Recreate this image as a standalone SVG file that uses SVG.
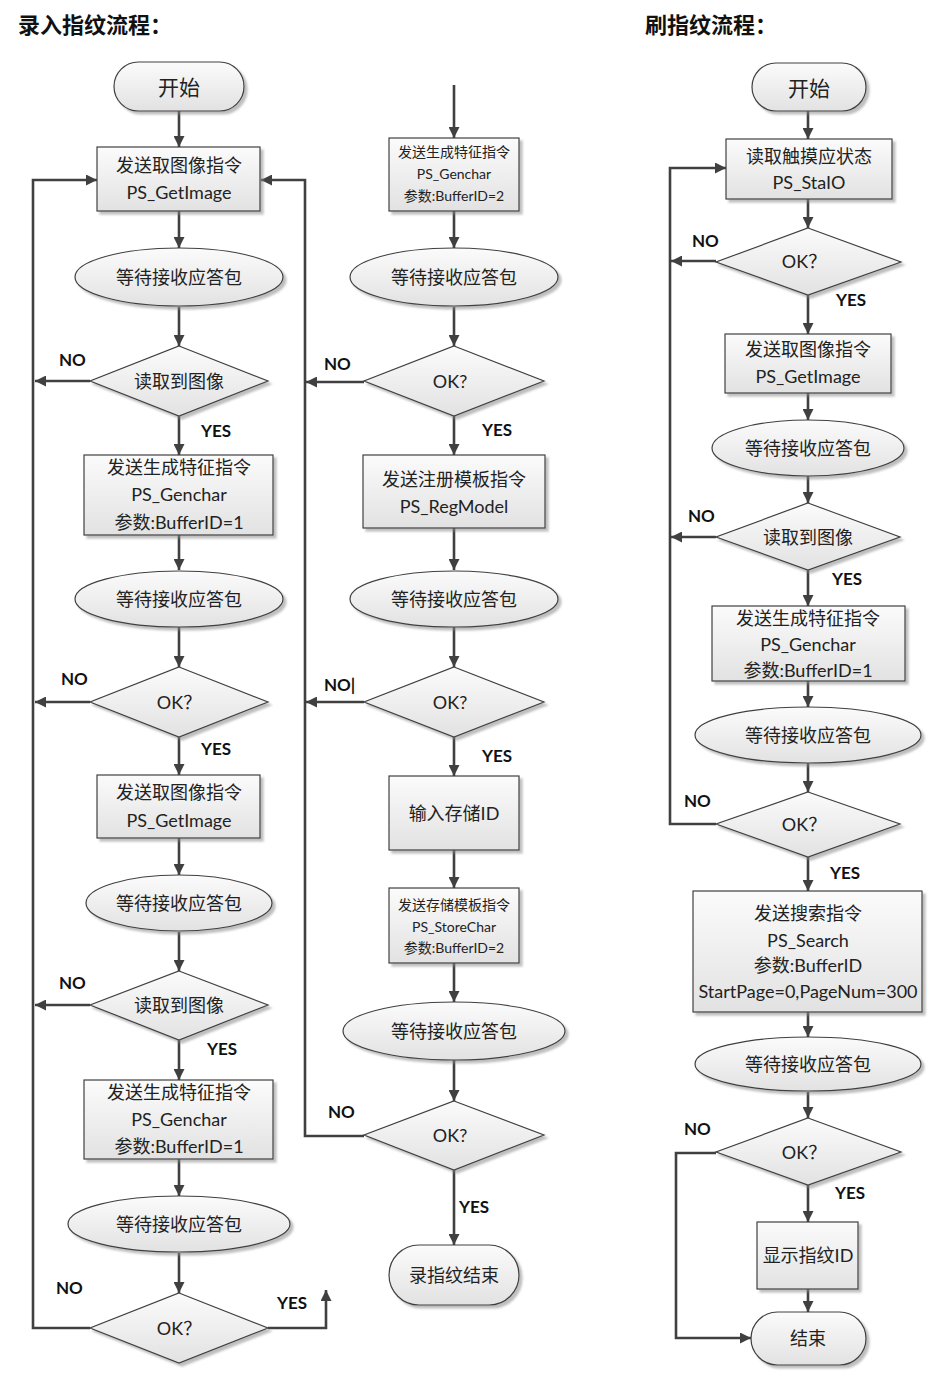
<svg xmlns="http://www.w3.org/2000/svg" width="936" height="1376" viewBox="0 0 936 1376">
<defs>
<linearGradient id="g" x1="0" y1="0" x2="0" y2="1"><stop offset="0" stop-color="#fbfbfb"/><stop offset="1" stop-color="#e2e2e2"/></linearGradient>
<filter id="sh" x="-10%" y="-10%" width="130%" height="140%"><feDropShadow dx="3" dy="3" stdDeviation="1.2" flood-color="#888" flood-opacity="0.55"/></filter>
<marker id="ah" viewBox="0 0 10 10" refX="10" refY="5" markerWidth="11" markerHeight="11" markerUnits="userSpaceOnUse" orient="auto"><path d="M0,0 L10,5 L0,10 z" fill="#404040"/></marker>
<style>
.n{fill:url(#g);stroke:#404040;stroke-width:1.2;filter:url(#sh)}
.t{font-family:Lato,"Noto Sans CJK SC",sans-serif;font-size:18px;fill:#222;text-anchor:middle;dominant-baseline:central}
.s{font-size:14px}
.c{fill:none;stroke:#404040;stroke-width:2.6}
.a{marker-end:url(#ah)}
.lb{font-family:Lato,"Liberation Sans",sans-serif;font-size:17px;font-weight:bold;fill:#111}
.ti{font-family:"Noto Sans CJK SC",sans-serif;font-size:22px;font-weight:bold;fill:#111}
</style>
</defs>
<rect width="936" height="1376" fill="#fff"/>
<text class="ti" x="18" y="33">录入指纹流程：</text>
<text class="ti" x="645" y="33">刷指纹流程：</text>

<g id="connectors">
<path class="c a" d="M179,111V147"/><path class="c a" d="M179,211V248"/><path class="c a" d="M179,307V346"/><path class="c a" d="M179,416V455"/><path class="c a" d="M179,535V570"/><path class="c a" d="M179,627V667"/><path class="c a" d="M179,737V775"/><path class="c a" d="M179,838V875"/><path class="c a" d="M179,932V971"/><path class="c a" d="M179,1040V1080"/><path class="c a" d="M179,1159V1196"/><path class="c a" d="M179,1253V1293"/>
<path class="c a" d="M90,381H35"/><path class="c a" d="M90,702H35"/><path class="c a" d="M90,1005H35"/>
<path class="c a" d="M90,1328H33V180H97"/>
<path class="c a" d="M268,1328H326V1290"/>
<path class="c a" d="M454,85V138"/><path class="c a" d="M454,211V248"/><path class="c a" d="M454,307V346"/><path class="c a" d="M454,416V455"/><path class="c a" d="M454,528V570"/><path class="c a" d="M454,627V667"/><path class="c a" d="M454,737V776"/><path class="c a" d="M454,850V888"/><path class="c a" d="M454,963V1002"/><path class="c a" d="M454,1060V1101"/><path class="c a" d="M454,1170V1245"/>
<path class="c a" d="M364,382H306"/><path class="c a" d="M364,702H306"/>
<path class="c a" d="M364,1136H305V180H261"/>
<path class="c a" d="M808,111V139"/><path class="c a" d="M808,199V228"/><path class="c a" d="M808,295V334"/><path class="c a" d="M808,393V420"/><path class="c a" d="M808,476V503"/><path class="c a" d="M808,570V606"/><path class="c a" d="M808,681V707"/><path class="c a" d="M808,763V792"/><path class="c a" d="M808,857V891"/><path class="c a" d="M808,1012V1037"/><path class="c a" d="M808,1092V1118"/><path class="c a" d="M808,1185V1222"/><path class="c a" d="M808,1289V1312"/>
<path class="c a" d="M716,261H671"/><path class="c a" d="M716,537H671"/>
<path class="c a" d="M716,824H670V168H726"/>
<path class="c a" d="M716,1153H676V1338H751"/>
</g>

<g id="labels">
<text class="lb" x="59" y="366">NO</text><text class="lb" x="201" y="437">YES</text>
<text class="lb" x="61" y="685">NO</text><text class="lb" x="201" y="755">YES</text>
<text class="lb" x="59" y="989">NO</text><text class="lb" x="207" y="1055">YES</text>
<text class="lb" x="56" y="1294">NO</text><text class="lb" x="277" y="1309">YES</text>
<text class="lb" x="324" y="370">NO</text><text class="lb" x="482" y="436">YES</text>
<text class="lb" x="324" y="691">NO|</text><text class="lb" x="482" y="762">YES</text>
<text class="lb" x="328" y="1118">NO</text><text class="lb" x="459" y="1213">YES</text>
<text class="lb" x="692" y="247">NO</text><text class="lb" x="836" y="306">YES</text>
<text class="lb" x="688" y="522">NO</text><text class="lb" x="832" y="585">YES</text>
<text class="lb" x="684" y="807">NO</text><text class="lb" x="830" y="879">YES</text>
<text class="lb" x="684" y="1135">NO</text><text class="lb" x="835" y="1199">YES</text>
</g>

<g id="L1"><rect class="n" x="114" y="62" width="130" height="49" rx="24.5"/><text class="t" x="179" y="86" style="font-size:21px">开始</text></g>
<g id="L2"><rect class="n" x="97" y="147" width="163" height="64"/><text class="t" x="179" y="165">发送取图像指令</text><text class="t" x="179" y="192">PS_GetImage</text></g>
<g id="L3"><ellipse class="n" cx="179" cy="277" rx="104" ry="29"/><text class="t" x="179" y="277">等待接收应答包</text></g>
<g id="L4"><polygon class="n" points="179,346 268,381 179,416 90,381"/><text class="t" x="179" y="381">读取到图像</text></g>
<g id="L5"><rect class="n" x="84" y="455" width="189" height="80"/><text class="t" x="179" y="467">发送生成特征指令</text><text class="t" x="179" y="494">PS_Genchar</text><text class="t" x="179" y="522">参数:BufferID=1</text></g>
<g id="L6"><ellipse class="n" cx="179" cy="599" rx="104" ry="28"/><text class="t" x="179" y="599">等待接收应答包</text></g>
<g id="L7"><polygon class="n" points="179,667 268,702 179,737 90,702"/><text class="t" x="179" y="702">OK？</text></g>
<g id="L8"><rect class="n" x="97" y="775" width="163" height="63"/><text class="t" x="179" y="792">发送取图像指令</text><text class="t" x="179" y="820">PS_GetImage</text></g>
<g id="L9"><ellipse class="n" cx="179" cy="903" rx="93" ry="28"/><text class="t" x="179" y="903">等待接收应答包</text></g>
<g id="L10"><polygon class="n" points="179,971 268,1005 179,1040 90,1005"/><text class="t" x="179" y="1005">读取到图像</text></g>
<g id="L11"><rect class="n" x="84" y="1080" width="189" height="79"/><text class="t" x="179" y="1092">发送生成特征指令</text><text class="t" x="179" y="1119">PS_Genchar</text><text class="t" x="179" y="1146">参数:BufferID=1</text></g>
<g id="L12"><ellipse class="n" cx="179" cy="1224" rx="111" ry="28"/><text class="t" x="179" y="1224">等待接收应答包</text></g>
<g id="L13"><polygon class="n" points="179,1293 268,1328 179,1363 90,1328"/><text class="t" x="179" y="1328">OK？</text></g>

<g id="M1"><rect class="n" x="389" y="138" width="130" height="73"/><text class="t s" x="454" y="151">发送生成特征指令</text><text class="t s" x="454" y="173">PS_Genchar</text><text class="t s" x="454" y="195">参数:BufferID=2</text></g>
<g id="M2"><ellipse class="n" cx="454" cy="277" rx="104" ry="29"/><text class="t" x="454" y="277">等待接收应答包</text></g>
<g id="M3"><polygon class="n" points="454,346 544,381 454,416 364,381"/><text class="t" x="450" y="381">OK?</text></g>
<g id="M4"><rect class="n" x="363" y="455" width="182" height="73"/><text class="t" x="454" y="479">发送注册模板指令</text><text class="t" x="454" y="506">PS_RegModel</text></g>
<g id="M5"><ellipse class="n" cx="454" cy="599" rx="104" ry="28"/><text class="t" x="454" y="599">等待接收应答包</text></g>
<g id="M6"><polygon class="n" points="454,667 544,702 454,737 364,702"/><text class="t" x="450" y="702">OK?</text></g>
<g id="M7"><rect class="n" x="389" y="776" width="130" height="74"/><text class="t" x="454" y="813">输入存储ID</text></g>
<g id="M8"><rect class="n" x="389" y="888" width="130" height="75"/><text class="t s" x="454" y="904">发送存储模板指令</text><text class="t s" x="454" y="926">PS_StoreChar</text><text class="t s" x="454" y="947">参数:BufferID=2</text></g>
<g id="M9"><ellipse class="n" cx="454" cy="1031" rx="111" ry="29"/><text class="t" x="454" y="1031">等待接收应答包</text></g>
<g id="M10"><polygon class="n" points="454,1101 544,1135 454,1170 364,1135"/><text class="t" x="450" y="1135">OK?</text></g>
<g id="M11"><rect class="n" x="389" y="1245" width="130" height="60" rx="30"/><text class="t" x="454" y="1275">录指纹结束</text></g>

<g id="R1"><rect class="n" x="752" y="63" width="114" height="48" rx="24"/><text class="t" x="809" y="87" style="font-size:21px">开始</text></g>
<g id="R2"><rect class="n" x="726" y="139" width="166" height="60"/><text class="t" x="809" y="156">读取触摸应状态</text><text class="t" x="809" y="182">PS_StaIO</text></g>
<g id="R3"><polygon class="n" points="808,228 901,262 808,295 716,262"/><text class="t" x="804" y="261">OK？</text></g>
<g id="R4"><rect class="n" x="725" y="334" width="166" height="59"/><text class="t" x="808" y="349">发送取图像指令</text><text class="t" x="808" y="376">PS_GetImage</text></g>
<g id="R5"><ellipse class="n" cx="808" cy="448" rx="96" ry="28"/><text class="t" x="808" y="448">等待接收应答包</text></g>
<g id="R6"><polygon class="n" points="808,503 900,537 808,570 716,537"/><text class="t" x="808" y="537">读取到图像</text></g>
<g id="R7"><rect class="n" x="712" y="606" width="193" height="75"/><text class="t" x="808" y="618">发送生成特征指令</text><text class="t" x="808" y="644">PS_Genchar</text><text class="t" x="808" y="670">参数:BufferID=1</text></g>
<g id="R8"><ellipse class="n" cx="808" cy="735" rx="113" ry="28"/><text class="t" x="808" y="735">等待接收应答包</text></g>
<g id="R9"><polygon class="n" points="808,792 900,824 808,857 716,824"/><text class="t" x="804" y="824">OK？</text></g>
<g id="R10"><rect class="n" x="693" y="891" width="229" height="121"/><text class="t" x="808" y="913">发送搜索指令</text><text class="t" x="808" y="940">PS_Search</text><text class="t" x="808" y="965">参数:BufferID</text><text class="t" x="808" y="991">StartPage=0,PageNum=300</text></g>
<g id="R11"><ellipse class="n" cx="808" cy="1064" rx="113" ry="27"/><text class="t" x="808" y="1064">等待接收应答包</text></g>
<g id="R12"><polygon class="n" points="808,1118 901,1152 808,1185 716,1152"/><text class="t" x="804" y="1152">OK？</text></g>
<g id="R13"><rect class="n" x="757" y="1222" width="101" height="67"/><text class="t" x="808" y="1255">显示指纹ID</text></g>
<g id="R14"><rect class="n" x="751" y="1312" width="115" height="53" rx="26.5"/><text class="t" x="808" y="1338">结束</text></g>
</svg>
